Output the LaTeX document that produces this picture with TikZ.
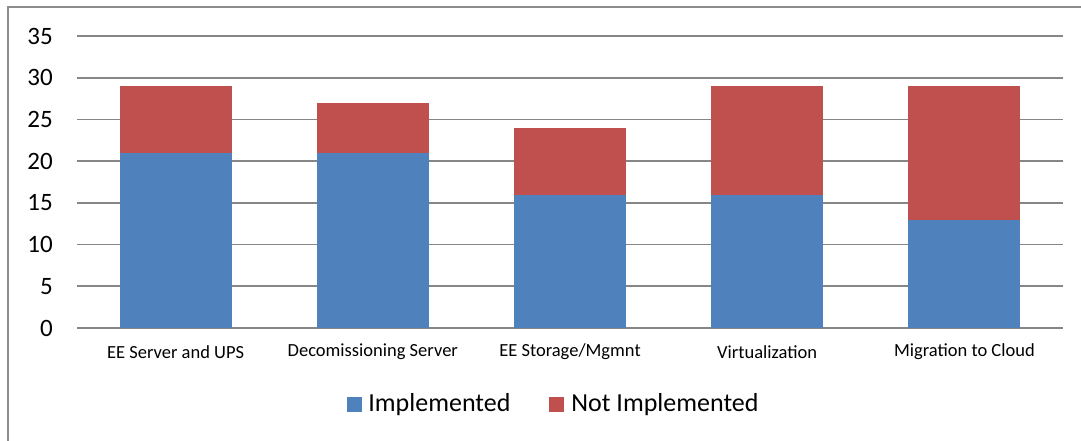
\documentclass[tikz,border=0pt]{standalone}
\usepackage{fontspec}
\setmainfont{Carlito}
\usepackage{tikz}
\usetikzlibrary{positioning}
\definecolor{implblue}{HTML}{4F81BD}
\definecolor{notred}{HTML}{C0504D}
\definecolor{gridgray}{HTML}{868686}
\definecolor{framegray}{HTML}{8C8C8C}

\begin{document}
\begin{tikzpicture}[
    x=1pt,y=1pt,
    gridline/.style={gridgray,line width=1.6pt},
    implbar/.style={fill=implblue,draw=none},
    notbar/.style={fill=notred,draw=none},
    ticklabel/.style={anchor=east,inner sep=0pt,font=\fontsize{25}{25}\selectfont},
    catlabel/.style={inner sep=0pt,font=\fontsize{18.5}{20}\selectfont},
    legendbox/.style={minimum size=15pt,inner sep=0pt},
    legendtext/.style={anchor=west,inner sep=0pt,font=\fontsize{26}{26}\selectfont}
]
    \useasboundingbox (0,0) rectangle (1081,441);
    \draw[framegray,line width=1.6pt] (8,434) rectangle (1100,-20);
    \begin{scope}[shift={(77,113)},x=197.2pt,y=8.343pt]
        \foreach \v in {0,5,...,35} {
            \draw[gridline] (0,\v) -- (5,\v);
            \node[ticklabel] (tick\v) at (-0.122,\v) {\v};
        }
        \foreach \i/\impl/\total/\name in {1/21/29/{EE Server and UPS},
                2/21/27/{Decomissioning Server},3/16/24/{EE Storage/Mgmnt},
                4/16/29/{Virtualization},5/13/29/{Migration to Cloud}} {
            \fill[implbar] ({\i-0.784},0) rectangle ({\i-0.216},\impl);
            \fill[notbar] ({\i-0.784},\impl) rectangle ({\i-0.216},\total);
            \node[catlabel] (cat\i) at ({\i-0.5},-2.88) {\name};
        }
    \end{scope}
    \node[legendbox,fill=implblue] (legimpl) at (354.5,36.5) {};
    \node[legendtext,right=6pt of legimpl] (legimpltext) {Implemented};
    \node[legendbox,fill=notred] (legnot) at (556.5,36.5) {};
    \node[legendtext,right=7pt of legnot] (legnottext) {Not Implemented};
\end{tikzpicture}
\end{document}
